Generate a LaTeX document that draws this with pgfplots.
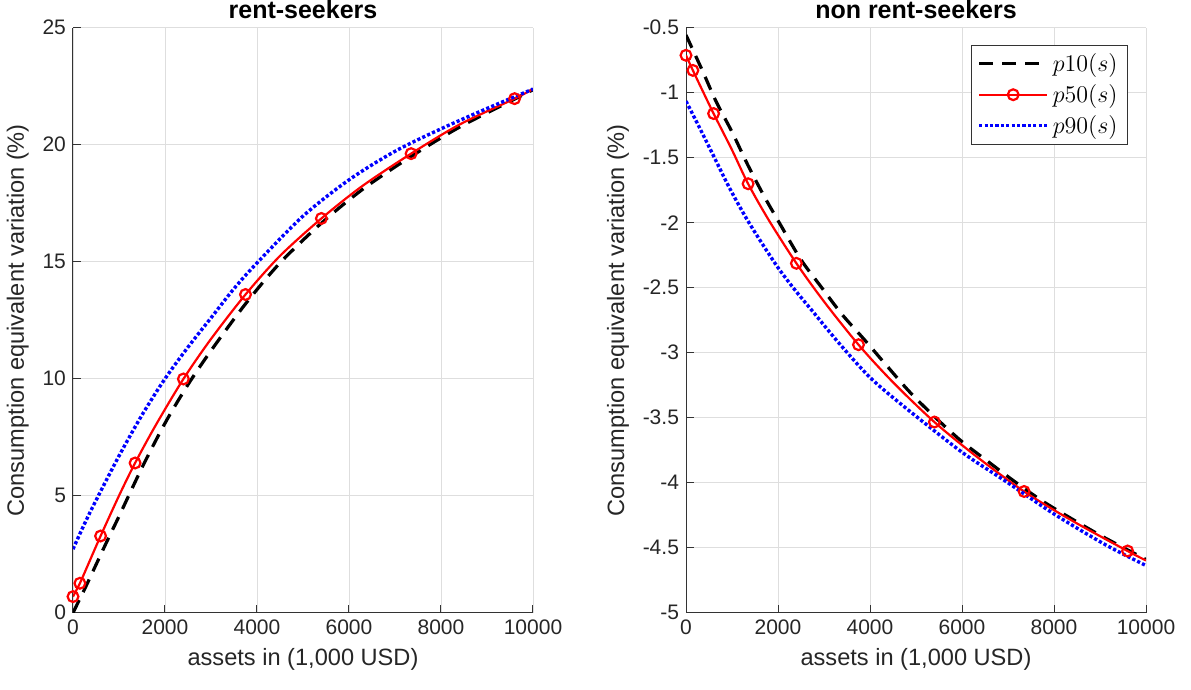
\documentclass[border=0pt]{standalone}
\usepackage{fontspec}
\setmainfont{Liberation Sans}
\usepackage{pgfplots}
\pgfplotsset{compat=1.18}

\pgfplotsset{
  mlab/.style={
    scale only axis, width=230pt, height=292.5pt,
    xmin=0, xmax=10000, xtick={0,2000,...,10000},
    axis x line*=bottom, axis y line*=left,
    grid=major, major grid style={draw=black!13, line width=0.4pt},
    tick align=inside, major tick length=4pt,
    tick style={draw=black!80, line width=0.5pt},
    axis line style={draw=black!80, line width=0.5pt},
    scaled ticks=false,
    /pgf/number format/1000 sep={},
    /pgf/number format/assume math mode=true,
    tick label style={font=\fontsize{10.5}{12}\selectfont, text=black!85},
    label style={font=\fontsize{11.8}{14}\selectfont, text=black!85},
    every axis title shift=0pt,
    title style={font=\fontsize{12.5}{15}\selectfont\bfseries,
      at={(0.5,1)}, anchor=south, inner sep=0pt, yshift=4.5pt},
    xlabel={assets in (1,000 USD)},
    ylabel={Consumption equivalent variation (\%)},
  },
  p10/.style={black, line width=1.6pt, dash pattern=on 7pt off 4.5pt},
  p50/.style={red, line width=1.1pt},
  p50m/.style={red, only marks, mark=o, mark size=2.7pt, mark options={line width=1.1pt}},
  p90/.style={blue, line width=1.7pt, dash pattern=on 1.6pt off 1.1pt},
}

\begin{document}
\begin{tikzpicture}
% ---------- left panel ----------
\begin{axis}[mlab, at={(0,0)}, anchor=south west,
  title={rent-seekers}, ymin=0, ymax=25, ytick={0,5,...,25}]
\addplot[p10, smooth] coordinates {
  (0,0.0) (250,1.0) (500,2.05) (750,3.1) (1000,4.12) (1500,6.2) (2000,8.1)
  (2500,9.75) (3000,11.2) (3750,13.2) (4500,14.95) (5400,16.65) (6300,18.1)
  (7350,19.5) (8400,20.75) (9600,21.95) (10000,22.35)};
\addplot[p50, smooth] coordinates {
  (0,0.69) (150,1.26) (300,1.93) (600,3.28) (1000,5.0) (1350,6.40) (1800,8.02)
  (2400,9.99) (3000,11.70) (3750,13.6) (4500,15.25) (5400,16.85) (6300,18.25)
  (7350,19.62) (8400,20.86) (9600,21.97) (10000,22.38)};
\addplot[p50m] coordinates {
  (0,0.69) (150,1.26) (600,3.28) (1350,6.40) (2400,9.99) (3750,13.6)
  (5400,16.85) (7350,19.62) (9600,21.97)};
\addplot[p90, smooth] coordinates {
  (0,2.72) (250,3.8) (500,4.8) (1000,6.7) (1500,8.45) (2000,10.0) (2500,11.35)
  (3000,12.6) (3500,13.85) (4000,14.95) (5000,16.95) (6000,18.5) (7000,19.72)
  (8000,20.68) (9000,21.55) (10000,22.38)};
\end{axis}

% ---------- right panel ----------
\begin{axis}[mlab, at={(306.5pt,0)}, anchor=south west,
  title={non rent-seekers}, ymin=-5, ymax=-0.5, ytick={-5,-4.5,...,-0.5},
  legend style={at={(rel axis cs:0.961,0.971)}, anchor=north east,
    draw=black!80, line width=0.5pt, font=\fontsize{13}{15}\selectfont,
    row sep=1pt, inner xsep=3pt, inner ysep=2pt},
  legend cell align=left,
  legend image code/.code={\draw[mark repeat=2, mark phase=2, #1]
    plot coordinates {(0pt,0pt) (17pt,0pt) (34pt,0pt)};}]
\addlegendimage{p10}
\addlegendentry{$p10(s)$}
\addlegendimage{p50, mark=o, mark size=2.7pt, mark options={solid, line width=1.1pt}}
\addlegendentry{$p50(s)$}
\addlegendimage{p90}
\addlegendentry{$p90(s)$}
\addplot[p10, smooth, forget plot] coordinates {
  (0,-0.556) (361,-0.833) (650,-1.064) (1010,-1.308) (1336,-1.55) (1697,-1.795)
  (2058,-2.018) (2491,-2.28) (2924,-2.487) (3392,-2.705) (3870,-2.896)
  (4341,-3.09) (4848,-3.296) (5391,-3.488) (5971,-3.675) (6551,-3.833)
  (7130,-3.987) (7746,-4.14) (8398,-4.28) (9087,-4.42) (10000,-4.59)};
\addplot[p50, smooth, forget plot] coordinates {
  (0,-0.712) (150,-0.828) (300,-0.94) (600,-1.16) (1000,-1.44) (1350,-1.70)
  (1800,-1.98) (2400,-2.312) (3000,-2.606) (3750,-2.938) (4500,-3.227)
  (5400,-3.533) (6300,-3.794) (7350,-4.067) (8400,-4.293) (9600,-4.525)
  (10000,-4.598)};
\addplot[p50m, forget plot] coordinates {
  (0,-0.712) (150,-0.828) (600,-1.16) (1350,-1.70) (2400,-2.312) (3750,-2.938)
  (5400,-3.533) (7350,-4.067) (9600,-4.525)};
\addplot[p90, smooth, forget plot] coordinates {
  (0,-1.065) (289,-1.265) (577,-1.47) (938,-1.727) (1299,-1.958) (1660,-2.163)
  (2022,-2.356) (2382,-2.523) (2743,-2.677) (3311,-2.92) (4000,-3.19)
  (4761,-3.42) (6000,-3.765) (6935,-3.985) (8000,-4.24) (9109,-4.475)
  (10000,-4.637)};
\end{axis}

\path (-36.5pt,-38.5pt) rectangle (559pt,306pt);
\end{tikzpicture}
\end{document}
